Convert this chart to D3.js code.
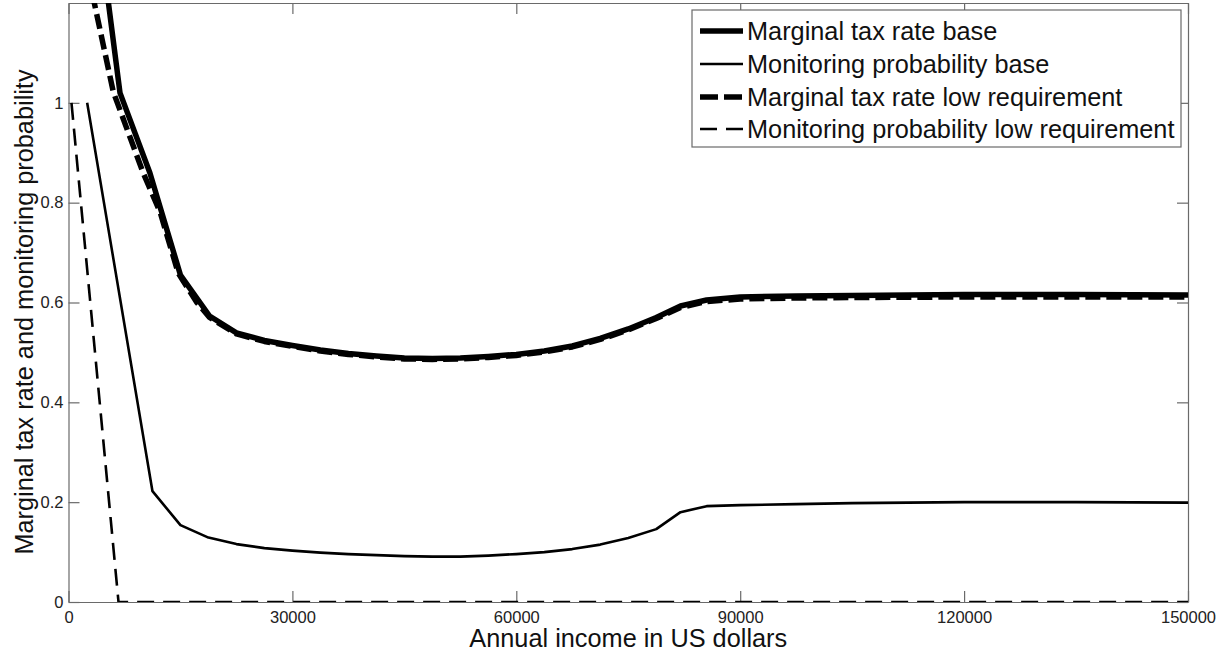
<!DOCTYPE html>
<html>
<head>
<meta charset="utf-8">
<script src="https://cdn.jsdelivr.net/npm/d3@7"></script>
<style>
  html, body { margin: 0; padding: 0; background: #fff; }
  svg { display: block; font-family: "Liberation Sans", Arial, Helvetica, sans-serif; }
</style>
</head>
<body>
<svg id="chart" width="1226" height="657"></svg>
<script>
// Income grid points (US dollars) and curve values
const taxBaseIncome = [2600, 6900, 10900, 15000, 18900, 22500, 26250, 30000, 33750, 37500, 41250, 45000, 48750, 52500, 56250, 60000, 63750, 67500, 71250, 75000, 78750, 82000, 85500, 90000, 97500, 105000, 120000, 135000, 150000];
const taxBaseRate   = [1.52, 1.020, 0.860, 0.655, 0.573, 0.539, 0.524, 0.514, 0.505, 0.498, 0.493, 0.489, 0.488, 0.489, 0.492, 0.496, 0.503, 0.513, 0.528, 0.547, 0.570, 0.593, 0.605, 0.611, 0.613, 0.614, 0.616, 0.616, 0.615];

const taxLowIncome = [2600, 6000, 10000, 12300, 14700, 17200, 18900, 22500, 26250, 30000, 33750, 37500, 41250, 45000, 48750, 52500, 56250, 60000, 63750, 67500, 71250, 75000, 78750, 82000, 85500, 90000, 97500, 105000, 120000, 135000, 150000];
const taxLowRate   = [1.26, 1.022, 0.860, 0.780, 0.659, 0.600, 0.570, 0.537, 0.522, 0.512, 0.503, 0.496, 0.491, 0.487, 0.486, 0.487, 0.490, 0.494, 0.501, 0.511, 0.526, 0.545, 0.568, 0.590, 0.602, 0.607, 0.609, 0.610, 0.611, 0.611, 0.611];

const monBaseIncome = [2500, 11250, 15000, 18750, 22500, 26250, 30000, 33750, 37500, 41250, 45000, 48750, 52500, 56250, 60000, 63750, 67500, 71250, 75000, 78750, 82000, 85500, 90000, 97500, 105000, 112500, 120000, 135000, 150000];
const monBaseProb   = [1.0, 0.222, 0.154, 0.129, 0.116, 0.108, 0.103, 0.099, 0.096, 0.094, 0.092, 0.091, 0.091, 0.093, 0.096, 0.100, 0.106, 0.115, 0.128, 0.146, 0.180, 0.192, 0.194, 0.196, 0.198, 0.199, 0.200, 0.200, 0.199];

const monLowIncome = [400, 6700, 150000];
const monLowProb   = [1.0, 0.0, 0.0];

const xTicks = [0, 30000, 60000, 90000, 120000, 150000];
const yTicks = [0, 0.2, 0.4, 0.6, 0.8, 1];

const legendLabels = [
  "Marginal tax rate base",
  "Monitoring probability base",
  "Marginal tax rate low requirement",
  "Monitoring probability low requirement"
];

const series = [
  { xs: taxBaseIncome, ys: taxBaseRate, width: 5.5, dash: null },
  { xs: monBaseIncome, ys: monBaseProb, width: 2.6, dash: null },
  { xs: taxLowIncome,  ys: taxLowRate,  width: 5.5, dash: "15,6" },
  { xs: monLowIncome,  ys: monLowProb,  width: 2.6, dash: "17,9" }
];

const svg = d3.select("#chart");
const plot = { left: 68.5, right: 1188, top: 3, bottom: 602 };

const x = d3.scaleLinear().domain([0, 150000]).range([plot.left, plot.right]);
const y = d3.scaleLinear().domain([0, 1.2]).range([plot.bottom, plot.top]);

svg.append("defs").append("clipPath").attr("id", "plotClip")
  .append("rect")
  .attr("x", plot.left).attr("y", plot.top)
  .attr("width", plot.right - plot.left).attr("height", plot.bottom - plot.top);

const axisColor = "#6a6a6a";
const tickLen = 11;

// Axes: bottom/left with labels, top/right mirrored with inward ticks only
const gx = svg.append("g").attr("transform", `translate(0,${plot.bottom})`)
  .call(d3.axisBottom(x).tickValues(xTicks).tickFormat(d3.format("d")).tickSizeInner(-tickLen).tickSizeOuter(0).tickPadding(9));
const gy = svg.append("g").attr("transform", `translate(${plot.left},0)`)
  .call(d3.axisLeft(y).tickValues(yTicks).tickFormat(d => d === 0 || d === 1 ? d3.format("d")(d) : d3.format(".1f")(d)).tickSizeInner(-tickLen).tickSizeOuter(0).tickPadding(5));
const gxTop = svg.append("g").attr("transform", `translate(0,${plot.top})`)
  .call(d3.axisTop(x).tickValues(xTicks).tickFormat("").tickSizeInner(-tickLen).tickSizeOuter(0));
const gyRight = svg.append("g").attr("transform", `translate(${plot.right},0)`)
  .call(d3.axisRight(y).tickValues(yTicks).tickFormat("").tickSizeInner(-tickLen).tickSizeOuter(0));

[gx, gy, gxTop, gyRight].forEach(g => {
  g.selectAll(".domain").attr("stroke", axisColor).attr("stroke-width", 1.2);
  g.selectAll(".tick line").attr("stroke", axisColor).attr("stroke-width", 1.2);
  g.selectAll(".tick text").attr("fill", "#222").style("font-size", "16.5px")
    .style("font-family", "'Liberation Sans', Arial, sans-serif");
});

// Curves
const line = d3.line().x(d => x(d[0])).y(d => y(d[1]));
const curves = svg.append("g").attr("clip-path", "url(#plotClip)");
series.forEach(s => {
  const pts = s.xs.map((v, i) => [v, s.ys[i]]);
  curves.append("path")
    .datum(pts)
    .attr("d", line)
    .attr("fill", "none")
    .attr("stroke", "#000")
    .attr("stroke-width", s.width)
    .attr("stroke-linejoin", "round")
    .attr("stroke-dasharray", s.dash);
});

// Axis titles
svg.append("text")
  .attr("x", (plot.left + plot.right) / 2)
  .attr("y", 647)
  .attr("text-anchor", "middle")
  .attr("fill", "#111")
  .style("font-size", "25.3px")
  .text("Annual income in US dollars");

svg.append("text")
  .attr("transform", `translate(33,312) rotate(-90)`)
  .attr("text-anchor", "middle")
  .attr("fill", "#111")
  .style("font-size", "25.3px")
  .text("Marginal tax rate and monitoring probability");

// Legend
const legend = { x: 692, y: 10, w: 489, h: 137 };
const lg = svg.append("g");
lg.append("rect")
  .attr("x", legend.x).attr("y", legend.y)
  .attr("width", legend.w).attr("height", legend.h)
  .attr("fill", "#fff").attr("stroke", axisColor).attr("stroke-width", 1.2);

const rowY = [31, 64, 97, 129];
legendLabels.forEach((label, i) => {
  const s = series[i];
  lg.append("line")
    .attr("x1", 700).attr("x2", 743)
    .attr("y1", rowY[i]).attr("y2", rowY[i])
    .attr("stroke", "#000")
    .attr("stroke-width", s.width)
    .attr("stroke-dasharray", s.dash ? (i === 2 ? "18,6" : "17,9") : null);
  lg.append("text")
    .attr("x", 747).attr("y", rowY[i])
    .attr("dy", "0.35em")
    .attr("fill", "#111")
    .style("font-size", "25.3px")
    .text(label);
});
</script>
</body>
</html>
